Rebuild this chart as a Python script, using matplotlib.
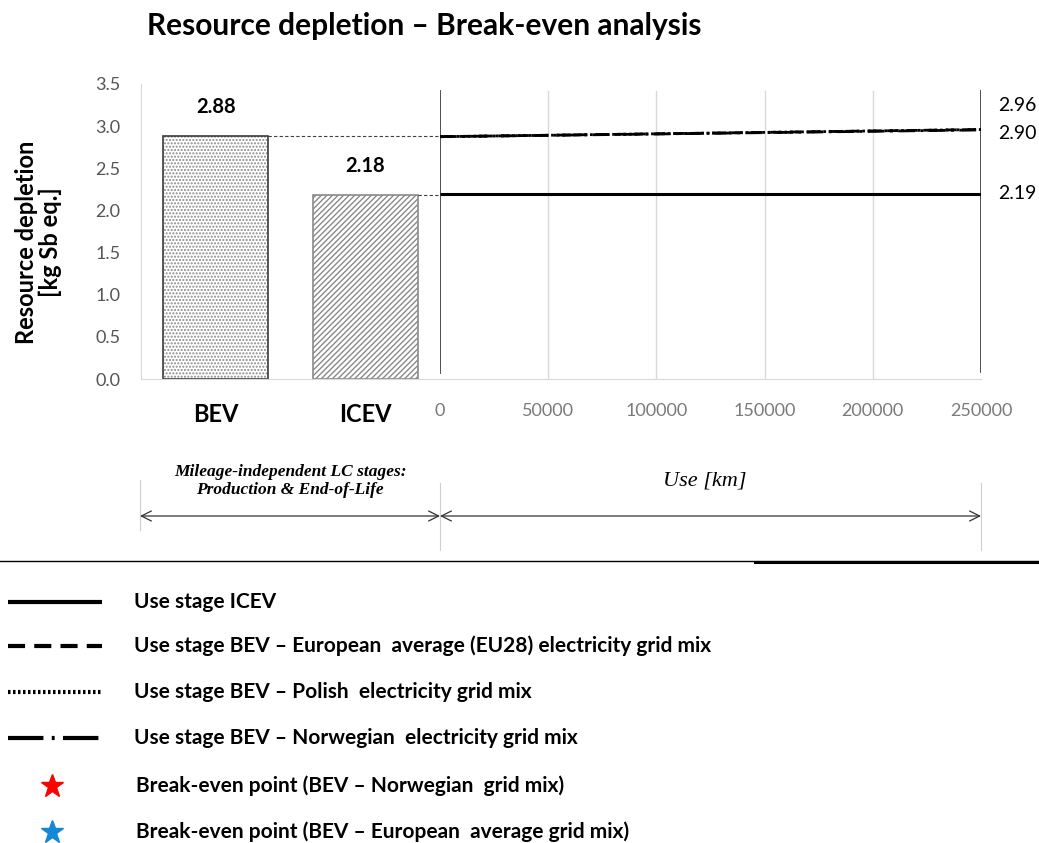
import matplotlib
matplotlib.use("Agg")
import matplotlib.pyplot as plt
from matplotlib.lines import Line2D

plt.rcParams['font.family'] = ['Lato', 'DejaVu Sans']

# data
vehicles = ['BEV', 'ICEV']
fixed_impact = [2.88, 2.18]          # production & end-of-life
km = [0, 250000]
use_icev = [2.19, 2.19]
use_bev_eu28 = [2.875, 2.96]
use_bev_pl = [2.875, 2.96]
use_bev_no = [2.875, 2.955]
end_values = [2.96, 2.90, 2.19]
km_ticks = [0, 50000, 100000, 150000, 200000, 250000]
y_ticks = [0.0, 0.5, 1.0, 1.5, 2.0, 2.5, 3.0, 3.5]

W, H = 1039, 843
fig = plt.figure(figsize=(W / 100, H / 100), dpi=100)


def box(x0, y0, x1, y1):
    # pixel box (top-left origin) -> figure fraction rect
    return [x0 / W, 1 - y1 / H, (x1 - x0) / W, (y1 - y0) / H]


# left panel: bars
ax1 = fig.add_axes(box(141, 84, 440, 379))
pos = range(len(vehicles))
ax1.bar(0, fixed_impact[0], width=0.7, color='white', edgecolor='#8a8a8a',
        hatch='.....', linewidth=0)
ax1.bar(0, fixed_impact[0], width=0.7, fill=False, edgecolor='#3a3a3a', linewidth=1.2)
ax1.bar(1, fixed_impact[1], width=0.7, color='white', edgecolor='#8a8a8a',
        hatch='//////', linewidth=0)
ax1.bar(1, fixed_impact[1], width=0.7, fill=False, edgecolor='#8a8a8a', linewidth=1.2)
for i, v in enumerate(fixed_impact):
    ax1.text(i, v + 0.23, f'{v:.2f}', ha='center', va='bottom', fontsize=14.5,
             fontweight='bold', color='black')
# connectors to the use phase
for i, v in enumerate(fixed_impact):
    ax1.plot([i + 0.35, 1.5], [v, v], color='#404040', lw=0.8, ls=(0, (3, 2)))
ax1.set_xlim(-0.5, 1.5)
ax1.set_ylim(0, 3.5)
ax1.set_yticks(y_ticks)
ax1.set_yticklabels([f'{t:.1f}' for t in y_ticks], fontsize=13, color='#555555')
ax1.set_xticks(list(pos))
ax1.set_xticklabels(vehicles, fontsize=17, fontweight='bold')
ax1.tick_params(axis='y', length=0, pad=15)
ax1.tick_params(axis='x', length=0, pad=17)
for s in ['top', 'right']:
    ax1.spines[s].set_visible(False)
ax1.spines['left'].set_color('#d9d9d9')
ax1.spines['bottom'].set_color('#d9d9d9')
ax1.set_ylabel('Resource depletion\n[kg Sb eq.]', fontsize=17, fontweight='bold',
               labelpad=24, linespacing=1.0)
ax1.yaxis.label.set_y(0.465)

# right panel: use phase
ax2 = fig.add_axes(box(440, 84, 981, 379))
ax2.set_xlim(0, 250000)
ax2.set_ylim(0, 3.5)
for t in km_ticks[1:-1]:
    ax2.axvline(t, ymin=0, ymax=0.975, color='#d9d9d9', lw=1)
ax2.axvline(0, ymin=0.02, ymax=0.975, color='#404040', lw=1.3)
ax2.axvline(250000, ymin=0.025, ymax=0.975, color='#404040', lw=1.3)
ax2.plot(km, use_icev, color='black', lw=2.2, solid_capstyle='butt')
ax2.plot(km, use_bev_pl, color='black', lw=2, ls=(0, (1, 1)))
ax2.plot(km, use_bev_eu28, color='black', lw=2, ls=(0, (4, 3)))
ax2.plot(km, use_bev_no, color='black', lw=2, ls=(0, (6, 2, 1, 2)))
# end-of-range value labels (two BEV labels stacked)
label_shift = [16, 0, 0]
for v, dy in zip(end_values, label_shift):
    ax2.annotate(f'{v:.2f}', xy=(1.0, v), xycoords=('axes fraction', 'data'),
                 xytext=(12, dy + 1), textcoords='offset points', ha='left',
                 va='center', fontsize=14, color='black')
ax2.set_xticks(km_ticks)
ax2.set_xticklabels([str(t) for t in km_ticks], fontsize=13, color='#7a7a7a')
ax2.tick_params(axis='x', length=0, pad=17)
ax2.set_yticks([])
for s in ['top', 'right', 'left']:
    ax2.spines[s].set_visible(False)
ax2.spines['bottom'].set_color('#d9d9d9')

# stage annotation below the chart, plus title and legend, in pixel space
ann = fig.add_axes([0, 0, 1, 1], facecolor='none')
ann.set_xlim(0, W)
ann.set_ylim(H, 0)
ann.axis('off')
ann.text(424, 26, 'Resource depletion \u2013 Break-even analysis',
         ha='center', va='center', fontsize=21.5, fontweight='bold')
for x0, y0, y1 in [(140, 480, 530), (440, 483, 550), (981, 483, 550)]:
    ann.plot([x0, x0], [y0, y1], color='#cfcfcf', lw=0.8)
for a, b in [(140, 440), (440, 981)]:
    ann.annotate('', xy=(a, 516), xytext=(b, 516),
                 arrowprops=dict(arrowstyle='<->', color='#333333', lw=0.9,
                                 shrinkA=0, shrinkB=0, mutation_scale=18))
ann.text(290, 481, 'Mileage-independent LC stages:\nProduction & End-of-Life',
         ha='center', va='center', fontsize=12.5, family='Liberation Serif',
         style='italic', fontweight='bold', linespacing=1.15)
ann.text(705, 481, 'Use [km]', ha='center', va='center', fontsize=16,
         family='Liberation Serif', style='italic')
ann.plot([0, W], [561, 561], color='black', lw=1)
ann.plot([755, W], [562, 562], color='black', lw=2.2)

leg_rows = [
    ('Use stage ICEV', dict(color='black', lw=3, ls='-')),
    ('Use stage BEV \u2013 European  average (EU28) electricity grid mix',
     dict(color='black', lw=3, ls=(0, (4.1, 2.2)))),
    ('Use stage BEV \u2013 Polish  electricity grid mix',
     dict(color='black', lw=3, ls=(0, (0.6, 0.6)))),
    ('Use stage BEV \u2013 Norwegian  electricity grid mix',
     dict(color='black', lw=3, ls=(0, (8.5, 2, 0.7, 2)))),
]
leg_y = [602, 646, 692, 738]
for (lab, st), y in zip(leg_rows, leg_y):
    ann.add_line(Line2D([8, 102], [y, y], solid_capstyle='butt', **st))
    ann.text(134, y, lab, ha='left', va='center', fontsize=15, fontweight='bold')
star_rows = [('Break-even point (BEV \u2013 Norwegian  grid mix)', '#ff0000', 786),
             ('Break-even point (BEV \u2013 European  average grid mix)', '#1487d6', 832)]
for lab, c, y in star_rows:
    ann.plot([52], [y], marker='*', color=c, markersize=17, ls='none')
    ann.text(136, y, lab, ha='left', va='center', fontsize=15, fontweight='bold')

fig.savefig('out.png', dpi=100)
